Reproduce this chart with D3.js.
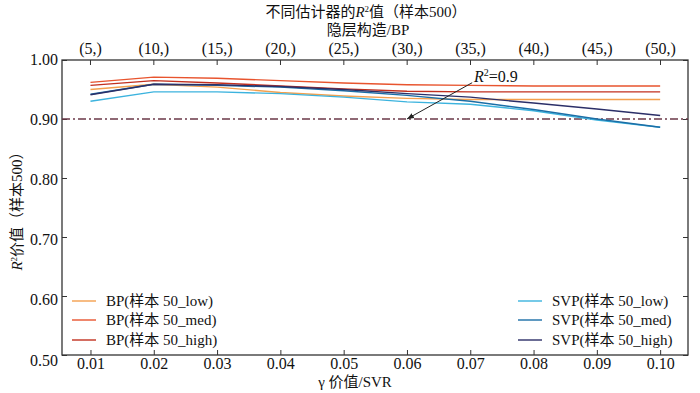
<!DOCTYPE html>
<meta charset="utf-8">
<style>
  body { margin: 0; background: #fff; }
  svg { display: block; }
  text { font-family: "Liberation Serif", "Noto Sans CJK SC", serif; fill: #111; }
  .axis text { font-size: 16px; }
  .axis path { display: none; }
  .axis line { stroke: #333; }
  .legend text { font-size: 15px; }
</style>
<body>
<svg width="700" height="393"></svg>
<script src="https://cdn.jsdelivr.net/npm/d3@7"></script>
<script>
  // values
  var gammaValues = [0.01, 0.02, 0.03, 0.04, 0.05, 0.06, 0.07, 0.08, 0.09, 0.10];
  var hiddenLayers = [5, 10, 15, 20, 25, 30, 35, 40, 45, 50];
  var yTicks = [0.5, 0.6, 0.7, 0.8, 0.9, 1.0];

  var bpLow = [0.950, 0.959, 0.954, 0.945, 0.939, 0.935, 0.933, 0.933, 0.933, 0.933];
  var bpMed = [0.962, 0.971, 0.969, 0.965, 0.961, 0.958, 0.957, 0.956, 0.956, 0.956];
  var bpHigh = [0.957, 0.965, 0.961, 0.956, 0.951, 0.947, 0.946, 0.946, 0.946, 0.946];
  var svpLow = [0.930, 0.946, 0.946, 0.943, 0.937, 0.929, 0.925, 0.914, 0.898, 0.886];
  var svpMed = [0.942, 0.959, 0.957, 0.954, 0.948, 0.940, 0.930, 0.916, 0.900, 0.886];
  var svpHigh = [0.941, 0.959, 0.958, 0.955, 0.950, 0.943, 0.937, 0.927, 0.917, 0.906];
  var threshold = 0.9;

  var series = [
    { name: "BP(样本 50_low)", values: bpLow, color: "#f4a04e", col: 0 },
    { name: "BP(样本 50_med)", values: bpMed, color: "#e8542e", col: 0 },
    { name: "BP(样本 50_high)", values: bpHigh, color: "#c2301f", col: 0 },
    { name: "SVP(样本 50_low)", values: svpLow, color: "#3cb3de", col: 1 },
    { name: "SVP(样本 50_med)", values: svpMed, color: "#1b6ea6", col: 1 },
    { name: "SVP(样本 50_high)", values: svpHigh, color: "#2b2f68", col: 1 }
  ];

  var svg = d3.select("svg");
  var plotLeft = 62, plotRight = 688, plotTop = 60, plotBottom = 355;

  var x = d3.scaleLinear().domain([0.0055, 0.1044]).range([plotLeft, plotRight]);
  var xTop = d3.scaleLinear().domain([2.79, 52.21]).range([plotLeft, plotRight]);
  var y = d3.scaleLinear().domain([0.5, 1.0]).range([plotBottom, plotTop]);

  // axes, ticks pointing inwards
  svg.append("g").attr("class", "axis")
    .attr("transform", "translate(0," + plotBottom + ")")
    .call(d3.axisBottom(x).tickValues(gammaValues).tickSizeInner(-5).tickSizeOuter(0).tickPadding(3)
      .tickFormat(d3.format(".2f")));
  svg.append("g").attr("class", "axis")
    .attr("transform", "translate(0," + plotTop + ")")
    .call(d3.axisTop(xTop).tickValues(hiddenLayers).tickSizeInner(-5).tickSizeOuter(0).tickPadding(6)
      .tickFormat(function (d) { return "(" + d + ",)"; }));
  var yAxis = svg.append("g").attr("class", "axis")
    .attr("transform", "translate(" + plotLeft + ",0)")
    .call(d3.axisLeft(y).tickValues(yTicks).tickSizeInner(-5).tickSizeOuter(0).tickPadding(4)
      .tickFormat(d3.format(".2f")));
  yAxis.selectAll("text").attr("dy", function (d) { return (4 + (1 - d) * 12) + "px"; });
  svg.append("g").attr("class", "axis")
    .attr("transform", "translate(" + plotRight + ",0)")
    .call(d3.axisRight(y).tickValues(yTicks).tickSizeInner(-5).tickSizeOuter(0).tickFormat(""));

  // frame
  svg.append("rect")
    .attr("x", plotLeft).attr("y", plotTop)
    .attr("width", plotRight - plotLeft).attr("height", plotBottom - plotTop)
    .attr("fill", "none").attr("stroke", "#333").attr("stroke-width", 1.3);

  // threshold line
  svg.append("line")
    .attr("x1", plotLeft).attr("x2", plotRight)
    .attr("y1", y(threshold)).attr("y2", y(threshold))
    .attr("stroke", "#6b3848").attr("stroke-width", 1.4)
    .attr("stroke-dasharray", "8,3,2,3");

  // series lines
  var line = d3.line()
    .x(function (d, i) { return x(gammaValues[i]); })
    .y(function (d) { return y(d); });

  svg.selectAll(".series")
    .data(series)
    .enter().append("path")
    .attr("class", "series")
    .attr("fill", "none")
    .attr("stroke", function (d) { return d.color; })
    .attr("stroke-width", 1.4)
    .attr("d", function (d) { return line(d.values); });

  // annotation
  var defs = svg.append("defs");
  defs.append("marker")
    .attr("id", "arrow").attr("viewBox", "0 0 10 10")
    .attr("refX", 10).attr("refY", 5)
    .attr("markerWidth", 7).attr("markerHeight", 7)
    .attr("orient", "auto")
    .append("path").attr("d", "M0,1 L10,5 L0,9 z").attr("fill", "#222");

  svg.append("line")
    .attr("x1", x(0.0703)).attr("y1", y(0.9615))
    .attr("x2", x(0.06)).attr("y2", y(threshold))
    .attr("stroke", "#222").attr("stroke-width", 1)
    .attr("marker-end", "url(#arrow)");

  var ann = svg.append("text")
    .attr("x", x(0.0706)).attr("y", y(0.9635))
    .style("font-size", "16px");
  ann.append("tspan").style("font-style", "italic").text("R");
  ann.append("tspan").attr("dy", -6).style("font-size", "10px").text("2");
  ann.append("tspan").attr("dy", 6).text("=0.9");

  // legend
  var legend = svg.append("g").attr("class", "legend");
  var colX = [72, 518];
  var rowY = [301, 320, 340];
  var counts = [0, 0];
  series.forEach(function (s) {
    var r = counts[s.col]++;
    var g = legend.append("g")
      .attr("transform", "translate(" + colX[s.col] + "," + rowY[r] + ")");
    g.append("line").attr("x1", 0).attr("x2", 24).attr("y1", 0).attr("y2", 0)
      .attr("stroke", s.color).attr("stroke-width", 1.4);
    g.append("text").attr("x", 34).attr("y", 0).attr("dy", "0.35em").text(s.name);
  });

  // titles
  var title = svg.append("text")
    .attr("x", 366).attr("y", 17)
    .attr("text-anchor", "middle").style("font-size", "15px");
  title.append("tspan").text("不同估计器的");
  title.append("tspan").style("font-style", "italic").text("R");
  title.append("tspan").attr("dy", -5).style("font-size", "9px").text("2");
  title.append("tspan").attr("dy", 5).text("值（样本500）");

  svg.append("text")
    .attr("x", 368).attr("y", 35)
    .attr("text-anchor", "middle").style("font-size", "15px")
    .text("隐层构造/BP");

  svg.append("text")
    .attr("x", 355).attr("y", 387)
    .attr("text-anchor", "middle").style("font-size", "15px")
    .text("γ 价值/SVR");

  var ylab = svg.append("text")
    .attr("transform", "translate(22," + ((plotTop + plotBottom) / 2) + ") rotate(-90)")
    .attr("text-anchor", "middle").style("font-size", "15px");
  ylab.append("tspan").style("font-style", "italic").text("R");
  ylab.append("tspan").attr("dy", -5).style("font-size", "9px").text("2");
  ylab.append("tspan").attr("dy", 5).text("价值（样本500）");
</script>
</body>
